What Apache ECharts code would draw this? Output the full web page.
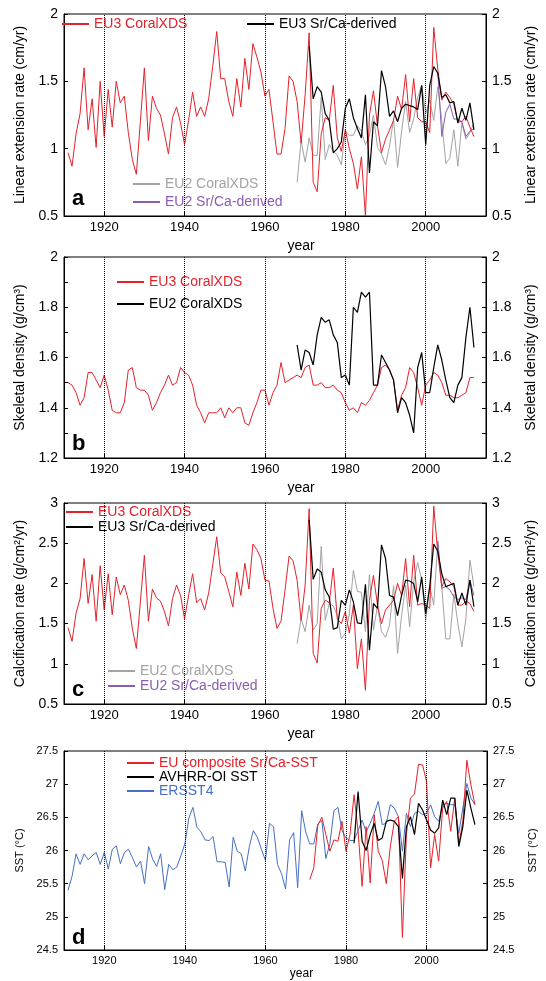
<!DOCTYPE html>
<html>
<head>
<meta charset="utf-8">
<script src="https://cdn.jsdelivr.net/npm/echarts@6/dist/echarts.min.js"></script>
<style>
html,body{margin:0;padding:0;background:#fff}
#chart{width:546px;height:981px}
</style>
</head>
<body>
<div id="chart"></div>
<script>
// vertical dotted lines + labelled years on the x axes
const decadeLines=[1920,1940,1960,1980,2000];

// panel a: linear extension rate (cm/yr)
const extEU3XDS=[0.97,0.87,1.11,1.26,1.60,1.14,1.37,1.01,1.50,1.09,1.44,1.16,1.50,1.34,1.39,1.12,0.92,0.81,1.20,1.60,
  1.06,1.39,1.30,1.25,1.11,0.96,1.23,1.31,1.19,1.03,1.21,1.42,1.24,1.31,1.24,1.37,1.61,1.87,1.52,1.52,
  1.35,1.24,1.52,1.31,1.67,1.44,1.78,1.68,1.57,1.39,1.44,1.20,0.96,0.96,1.15,1.54,1.50,1.35,1.04,1.40,
  1.86,0.75,0.68,1.11,1.23,1.21,1.47,1.08,0.98,1.14,1.00,0.89,0.70,0.94,0.50,1.25,1.43,1.17,0.97,1.07,
  1.14,1.21,1.39,1.29,1.55,1.20,1.52,1.23,1.20,1.20,1.12,1.90,1.59,1.36,1.42,1.38,1.33,1.20,1.20,1.24,
  1.16,1.09]; // 1911-2012
const extEU3SrCa=[1.76,1.37,1.46,1.42,1.26,1.21,0.97,1.00,1.05,1.30,1.37,1.23,1.15,1.08,1.40,0.82,1.20,1.17,1.58,1.46,
  1.24,1.28,1.20,1.30,1.33,1.32,1.31,1.29,1.47,1.03,1.47,1.61,1.56,1.38,1.40,1.34,1.35,1.19,1.30,1.21,
  1.34,1.14]; // 1971-2012
const extEU2XDS=[0.75,1.06,0.90,1.08,0.95,0.95,1.38,0.92,1.03,0.98,0.95,0.88,1.13,1.10,1.10,1.17,1.13,1.03,1.10,1.25,
  1.01,0.96,0.88,1.02,1.22,0.86,1.13,1.35,1.12,1.22,1.38,1.47,1.26,1.36,1.21,1.46,1.21,0.89,0.93,1.14,
  0.87,1.19,1.07,1.12,1.19]; // 1968-2012
const extEU2SrCa=[1.57,1.09,1.27,1.33,1.22,1.22,1.20,1.09,1.13,1.15]; // 2003-2012

// panel b: skeletal density (g/cm3)
const denEU3XDS=[1.50,1.49,1.46,1.41,1.44,1.54,1.54,1.51,1.48,1.53,1.47,1.39,1.38,1.38,1.42,1.55,1.56,1.48,1.47,1.47,
  1.45,1.39,1.42,1.46,1.49,1.53,1.49,1.50,1.56,1.54,1.53,1.49,1.41,1.38,1.34,1.38,1.38,1.38,1.40,1.36,
  1.40,1.38,1.40,1.40,1.34,1.33,1.38,1.42,1.47,1.47,1.41,1.46,1.49,1.58,1.50,1.51,1.52,1.53,1.52,1.56,
  1.57,1.49,1.49,1.50,1.48,1.48,1.49,1.47,1.46,1.42,1.39,1.40,1.38,1.42,1.41,1.43,1.46,1.49,1.56,1.57,
  1.55,1.51,1.39,1.45,1.48,1.56,1.54,1.48,1.41,1.49,1.51,1.54,1.53,1.50,1.45,1.45,1.44,1.44,1.45,1.46,
  1.52,1.52]; // 1911-2012
const denEU2XDS=[1.65,1.55,1.63,1.62,1.57,1.69,1.76,1.74,1.75,1.69,1.66,1.52,1.53,1.49,1.80,1.78,1.86,1.84,1.86,1.49,
  1.49,1.61,1.58,1.55,1.51,1.38,1.44,1.42,1.37,1.30,1.56,1.62,1.46,1.46,1.56,1.65,1.59,1.51,1.44,1.42,
  1.49,1.52,1.68,1.80,1.64]; // 1968-2012

// panel c: calcification rate (g/cm2/yr)
const calEU3XDS=[1.45,1.28,1.63,1.81,2.31,1.75,2.11,1.53,2.22,1.67,2.12,1.61,2.08,1.86,1.98,1.79,1.44,1.19,1.77,2.35,
  1.53,1.93,1.82,1.78,1.65,1.47,1.81,1.98,1.85,1.56,1.85,2.12,1.76,1.81,1.67,1.88,2.23,2.58,2.13,2.08,
  1.90,1.71,2.14,1.85,2.25,1.93,2.49,2.42,2.31,2.04,2.03,1.69,1.44,1.53,1.92,2.34,2.28,2.04,1.54,1.98,
  2.93,1.13,1.01,1.69,1.79,1.76,2.19,1.56,1.50,1.65,1.38,1.73,0.94,1.31,0.67,1.79,2.10,1.73,1.50,1.67,
  1.73,1.79,2.00,1.85,2.31,1.71,2.35,1.73,1.75,1.73,1.69,2.96,2.38,1.96,2.06,2.02,1.96,1.73,1.73,1.78,
  1.75,1.65]; // 1911-2012
const calEU3SrCa=[2.79,2.05,2.18,2.14,1.92,1.83,1.43,1.45,1.79,1.73,1.92,1.77,1.51,1.50,1.99,1.17,1.75,1.69,2.48,2.31,
  1.85,1.83,1.60,1.85,2.04,2.03,2.00,1.77,2.08,1.62,1.96,2.49,2.40,2.12,1.96,1.98,2.00,1.73,1.88,1.73,
  2.04,1.71]; // 1971-2012
const calEU2XDS=[1.25,1.56,1.40,1.73,1.42,1.50,2.46,1.54,1.75,1.72,1.60,1.31,1.38,1.62,2.16,1.90,1.89,1.40,2.11,1.42,
  1.72,1.40,1.33,1.48,1.97,1.13,1.60,1.98,1.46,2.02,2.26,2.04,1.54,1.96,1.73,2.52,1.96,1.31,1.31,1.87,
  1.50,1.21,1.56,2.29,1.96]; // 1968-2012
const calEU2SrCa=[2.53,1.94,1.96,1.92,1.83,1.80,1.82,1.80,2.04,1.85]; // 2003-2012

// panel d: SST (°C)
const sstERSST4=[25.40,25.61,25.95,25.79,25.95,25.86,25.92,25.97,25.79,25.97,25.72,26.02,26.07,25.80,25.97,26.02,25.89,25.75,25.84,25.50,
  26.06,25.87,25.76,25.95,25.41,25.79,25.71,25.75,25.92,26.10,26.49,26.65,26.35,26.28,26.16,26.15,26.21,25.83,25.83,25.82,
  25.45,26.20,25.99,25.95,25.69,26.06,26.30,26.20,26.02,25.85,26.41,26.36,25.79,25.65,25.42,26.16,26.27,25.44,26.60,26.28,
  26.10,26.10,26.40,26.45,25.88,26.10,26.60,26.65,26.30,26.19,26.15,26.15,26.30,26.46,26.28,26.41,26.56,26.74,26.39,26.41,
  26.69,26.64,26.51,25.99,26.56,26.36,26.56,26.59,26.54,26.56,26.69,26.51,26.44,26.69,26.71,26.69,26.69,26.26,26.64,27.01,
  26.79,26.69]; // 1911-2012
const sstSrCa=[25.56,25.74,26.38,26.50,26.24,25.99,26.16,26.14,26.44,25.99,26.24,26.84,26.29,25.46,26.36,25.51,26.54,25.99,25.85,25.50,
  26.06,26.44,26.51,24.69,26.24,26.79,26.85,27.30,27.29,27.04,25.74,26.24,25.84,26.64,26.74,26.29,26.79,26.09,26.44,27.36,
  26.99,26.69]; // 1971-2012
const sstAVHRR=[26.11,26.89,26.14,26.00,26.24,26.41,26.15,26.19,26.44,26.46,26.44,26.36,25.58,26.36,26.51,26.24,26.71,26.61,26.46,26.31,
  26.26,26.34,26.76,26.54,26.79,26.79,26.06,26.36,26.91,26.64,26.39]; // 1982-2012

const RED='#e4222b', GRAY='#a3a3a3', PURPLE='#8b5db3', BLUE='#4670c3', BLACK='#000';
const FONT='Liberation Sans, Arial, sans-serif';

const chart=echarts.init(document.getElementById('chart'));

function line(name,start,vals,color,g,w) {
  return {
    type:'line', name:name, xAxisIndex:g, yAxisIndex:g*2,
    data:vals.map((v,i)=>[start+i,v]),
    symbol:'none', lineStyle:{color:color,width:w||1}, itemStyle:{color:color},
    animation:false, silent:true
  };
}
function dotted(s) {
  s.markLine={silent:true,symbol:['none','none'],label:{show:false},animation:false,
    lineStyle:{color:'#000',type:'dotted',width:1},
    data:decadeLines.map(v=>({xAxis:v}))};
  return s;
}

const grids=[
  {left:64,top:14,width:424,height:202},
  {left:64,top:257,width:424,height:201},
  {left:64,top:503,width:424,height:201},
  {left:64,top:751,width:424,height:201}
];
const yCfg=[
  {min:0.5,max:2,interval:0.5,name:'Linear extension rate (cm/yr)',fs:14},
  {min:1.2,max:2,interval:0.1,name:'Skeletal density (g/cm³)',fs:14,even:true},
  {min:0.5,max:3,interval:0.5,name:'Calcification rate (g/cm²/yr)',fs:14},
  {min:24.5,max:27.5,interval:0.5,name:'SST (°C)',fs:11}
];

let xAxes=[], yAxes=[];
grids.forEach((g,i)=>{
  const fs=yCfg[i].fs;
  xAxes.push({
    type:'value', gridIndex:i, min:1910, max:2015,
    name:'year', nameLocation:'middle', nameGap:i===3?18:23,
    nameTextStyle:{color:'#000',fontSize:i===3?12:14,fontFamily:FONT,padding:[0,0,0,52]},
    axisLine:{lineStyle:{color:'#000'}},
    axisTick:{inside:true,length:4,customValues:decadeLines,lineStyle:{color:'#000'}},
    axisLabel:{customValues:decadeLines,color:'#000',fontSize:i===3?11:13,fontFamily:FONT,margin:5,
      formatter:v=>String(v)},
    splitLine:{show:false}
  });
  ['left','right'].forEach(pos=>{
    const c=yCfg[i];
    yAxes.push({
      type:'value', gridIndex:i, position:pos, min:c.min, max:c.max, interval:c.interval,
      name:c.name, nameLocation:'middle', nameRotate:90, nameGap:pos==='left'?(i===3?36:34):(i===3?40:38),
      nameTextStyle:{color:'#000',fontSize:i===3?11:14,fontFamily:FONT},
      axisLine:{show:true,lineStyle:{color:'#000'}},
      axisTick:{inside:true,length:4,lineStyle:{color:'#000'}},
      axisLabel:{color:'#000',fontSize:fs,fontFamily:FONT,margin:6,
        formatter:v=>{
          if(c.even && Math.round(v*10)%2!==0) return '';
          return String(Math.round(v*10)/10);
        }},
      splitLine:{show:false}
    });
  });
});

const series=[
  dotted(line('EU2 CoralXDS',1968,extEU2XDS,GRAY,0)),
  line('EU2 Sr/Ca-derived',2003,extEU2SrCa,PURPLE,0),
  line('EU3 CoralXDS',1911,extEU3XDS,RED,0),
  line('EU3 Sr/Ca-derived',1971,extEU3SrCa,BLACK,0,1.2),

  dotted(line('EU3 CoralXDS',1911,denEU3XDS,RED,1)),
  line('EU2 CoralXDS',1968,denEU2XDS,BLACK,1,1.2),

  dotted(line('EU2 CoralXDS',1968,calEU2XDS,GRAY,2)),
  line('EU2 Sr/Ca-derived',2003,calEU2SrCa,PURPLE,2),
  line('EU3 CoralXDS',1911,calEU3XDS,RED,2),
  line('EU3 Sr/Ca-derived',1971,calEU3SrCa,BLACK,2,1.2),

  dotted(line('ERSST4',1911,sstERSST4,BLUE,3)),
  line('EU composite Sr/Ca-SST',1971,sstSrCa,RED,3),
  line('AVHRR-OI SST',1982,sstAVHRR,BLACK,3,1.2)
];

function item(name,color) {
  return {name:name,icon:'rect',textStyle:{color:color},itemStyle:{color:color,borderWidth:0}};
}
const legBase={padding:0,itemWidth:27,itemHeight:2,selectedMode:false,orient:'vertical',
  textStyle:{fontSize:14,lineHeight:14,fontFamily:FONT}};
const legends=[
  {left:62,top:17,data:[item('EU3 CoralXDS',RED)]},
  {left:247,top:17,data:[item('EU3 Sr/Ca-derived',BLACK)]},
  {left:133,top:177,itemGap:4,data:[item('EU2 CoralXDS',GRAY),item('EU2 Sr/Ca-derived',PURPLE)]},
  {left:117,top:275,itemGap:8,data:[item('EU3 CoralXDS',RED),item('EU2 CoralXDS',BLACK)]},
  {left:66,top:505,itemGap:1,data:[item('EU3 CoralXDS',RED),item('EU3 Sr/Ca-derived',BLACK)]},
  {left:108,top:664,itemGap:1,data:[item('EU2 CoralXDS',GRAY),item('EU2 Sr/Ca-derived',PURPLE)]},
  {left:127,top:756,itemGap:0,data:[item('EU composite Sr/Ca-SST',RED),item('AVHRR-OI SST',BLACK),item('ERSST4',BLUE)]}
].map(l=>Object.assign({},legBase,l));

const letters=[['a',188],['b',433],['c',679],['d',927]];

chart.setOption({
  animation:false,
  backgroundColor:'#fff',
  grid:grids.map(g=>Object.assign({show:true,borderColor:'#000',borderWidth:1,backgroundColor:'transparent'},g)),
  title:letters.map(l=>({text:l[0],left:72,top:l[1],padding:0,
    textStyle:{fontSize:22,fontWeight:'bold',color:'#000',fontFamily:FONT}})),
  legend:legends,
  xAxis:xAxes,
  yAxis:yAxes,
  series:series
});
</script>
</body>
</html>
